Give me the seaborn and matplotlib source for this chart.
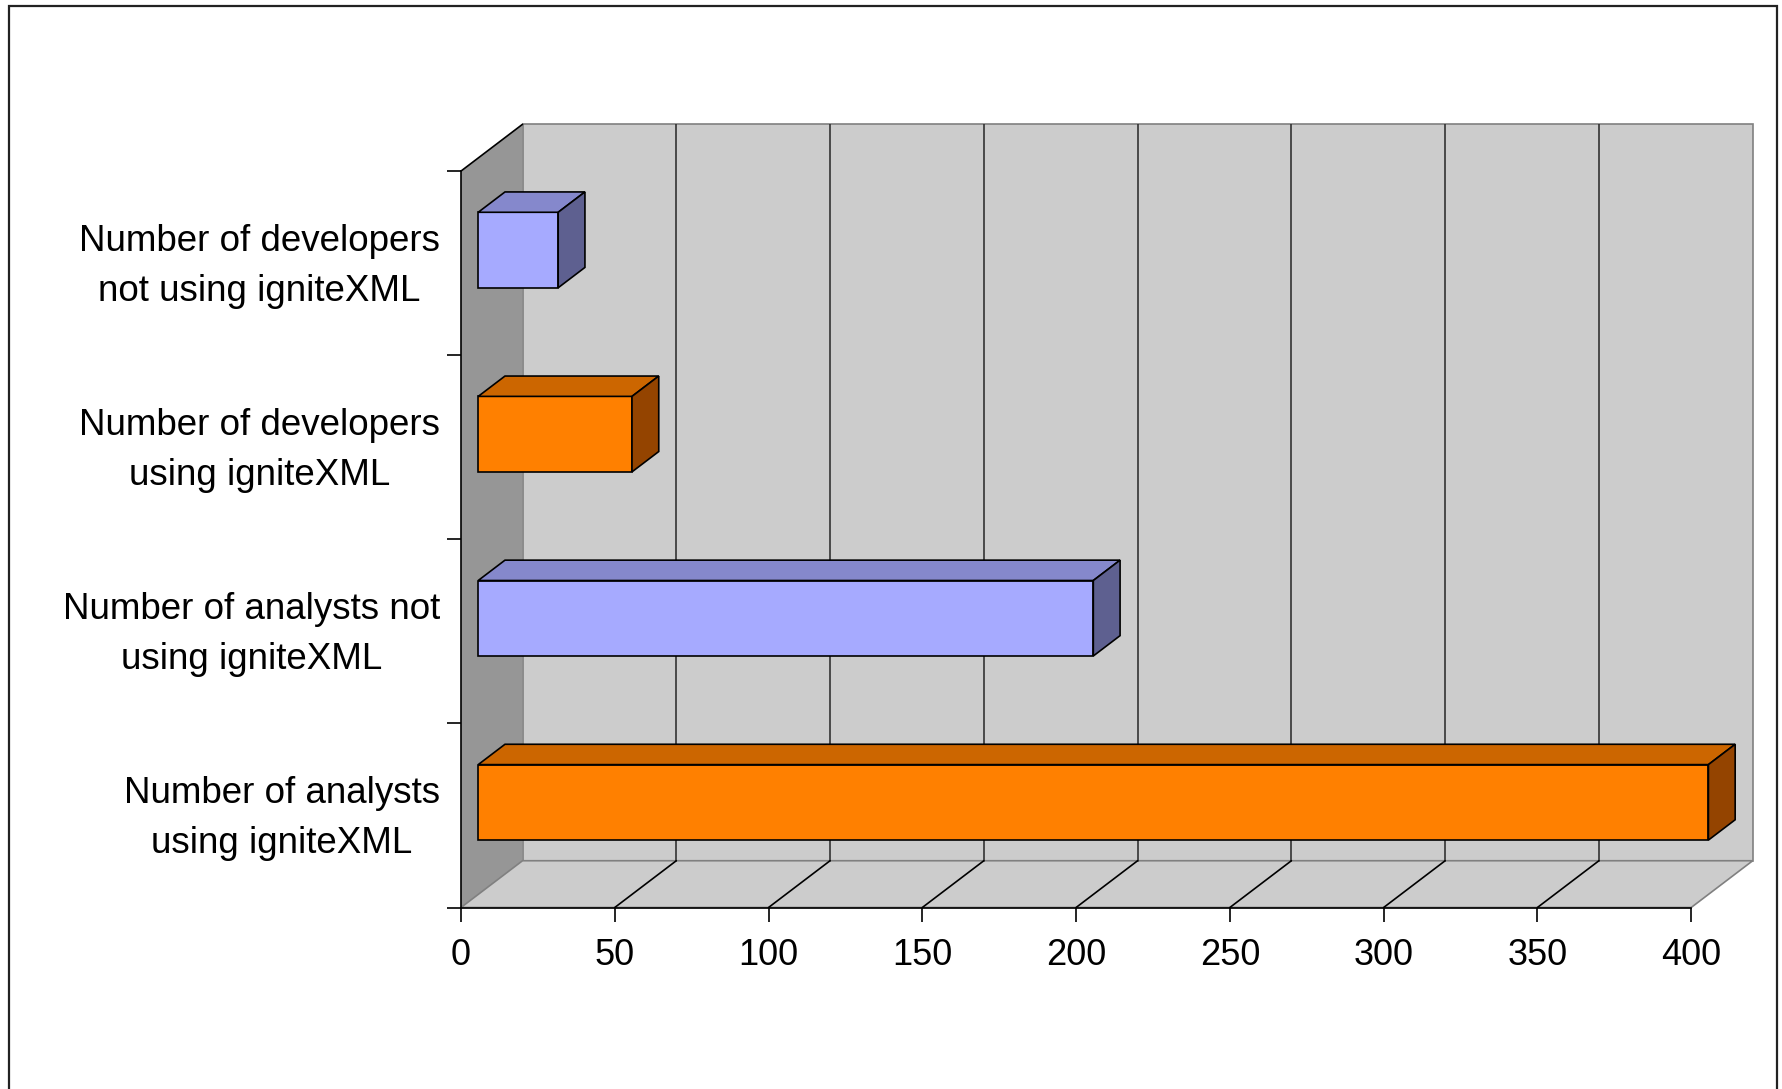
import numpy as np
import pandas as pd
import matplotlib.pyplot as plt
import seaborn as sns
from matplotlib.patches import Polygon, Rectangle

# data
categories = ["Number of developers\nnot using igniteXML",
              "Number of developers\nusing igniteXML",
              "Number of analysts not\nusing igniteXML",
              "Number of analysts\nusing igniteXML"]
values = [26, 50, 200, 400]
front_colors = ['#A6AAFF', '#FF8000', '#A6AAFF', '#FF8000']
top_colors = ['#8588CC', '#CC6600', '#8588CC', '#CC6600']
side_colors = ['#5E6090', '#944400', '#5E6090', '#944400']
x_ticks = [0, 50, 100, 150, 200, 250, 300, 350, 400]

# 3-D look: depth of the box in value / category units
DX = 20.0
DY = 0.254
F0, F1 = 0.28, 0.715   # bars sit between these depth fractions

sns.set_style('white')
plt.rcParams['font.family'] = ['Liberation Sans', 'DejaVu Sans']
plt.rcParams['text.color'] = 'black'
plt.rcParams['xtick.labelcolor'] = 'black'
plt.rcParams['ytick.labelcolor'] = 'black'

df = pd.DataFrame({'label': categories, 'value': values})

fig = plt.figure(figsize=(17.82, 10.89), dpi=100)
ax = fig.add_axes([461 / 1782, 1 - 907.5 / 1089, (1752.7 - 461) / 1782, (907.5 - 124.3) / 1089])

sns.barplot(data=df, x='value', y='label', hue='label',
            palette=dict(zip(categories, front_colors)), saturation=1,
            width=0.41, edgecolor='black', linewidth=1.2, legend=False,
            ax=ax, zorder=5)
bars = list(ax.patches)

x_max = max(x_ticks)
bottom = len(categories) - 0.5
top = -0.5
ax.set_xlim(0, x_max + DX)
ax.set_ylim(bottom, top - DY)

# walls and floor
ax.add_patch(Polygon([(0, bottom), (0, top), (DX, top - DY), (DX, bottom - DY)],
                     fc='#969696', ec='none', zorder=0, clip_on=False))
ax.add_patch(Rectangle((DX, top - DY), x_max, bottom - top,
                       fc='#CCCCCC', ec='#808080', lw=1.2, zorder=0, clip_on=False))
ax.add_patch(Polygon([(0, bottom), (x_max, bottom), (x_max + DX, bottom - DY), (DX, bottom - DY)],
                     fc='#CCCCCC', ec='#808080', lw=1.2, zorder=0.5, clip_on=False))
ax.plot([0, DX], [top, top - DY], color='black', lw=1.2, zorder=1, clip_on=False)

# gridlines on back wall and floor
for v in x_ticks[1:-1]:
    ax.plot([v + DX, v + DX], [bottom - DY, top - DY], color='#333333', lw=1.2, zorder=1)
    ax.plot([v, v + DX], [bottom, bottom - DY], color='black', lw=1.2, zorder=1)

# 3-D faces of the bars
d = F1 - F0
for p in bars:
    i = int(round(p.get_y() + p.get_height() / 2))
    p.set_x(p.get_x() + F0 * DX)
    p.set_y(p.get_y() - F0 * DY)
    x0 = p.get_x()
    x1 = x0 + p.get_width()
    yt = p.get_y()
    yb = yt + p.get_height()
    ax.add_patch(Polygon([(x0, yt), (x1, yt), (x1 + d * DX, yt - d * DY), (x0 + d * DX, yt - d * DY)],
                         fc=top_colors[i], ec='black', lw=1.2, zorder=5))
    ax.add_patch(Polygon([(x1, yt), (x1, yb), (x1 + d * DX, yb - d * DY), (x1 + d * DX, yt - d * DY)],
                         fc=side_colors[i], ec='black', lw=1.2, zorder=5))

# axes
ax.spines['top'].set_visible(False)
ax.spines['right'].set_visible(False)
ax.spines['left'].set_bounds(top, bottom)
ax.spines['bottom'].set_bounds(0, x_max)
for s in ['left', 'bottom']:
    ax.spines[s].set_color('black')
    ax.spines[s].set_linewidth(1.2)
    ax.spines[s].set_zorder(2)

ax.set_xticks(x_ticks)
ax.tick_params(axis='x', direction='out', length=10, width=1.2, color='black',
               labelsize=26, labelcolor='black', pad=12, bottom=True)
# labels sit a touch above the band centre, as in the original
ax.set_yticks(np.arange(len(categories)) - 0.045, categories)
ax.set_yticks(np.arange(top, bottom + 0.01, 1), minor=True)
ax.tick_params(axis='y', which='major', length=0, pad=15, labelsize=26.5,
               labelcolor='black', left=True)
ax.tick_params(axis='y', which='minor', direction='out', length=10, width=1.2, color='black', left=True)
for lbl in ax.get_yticklabels():
    lbl.set_multialignment('center')
    lbl.set_linespacing(1.55)
ax.set_xlabel('')
ax.set_ylabel('')

# chart border
fig.add_artist(Rectangle((8.7 / 1782, -0.02), (1776.7 - 8.7) / 1782, 1.02 - 6 / 1089,
                         transform=fig.transFigure, fill=False, ec='#222222', lw=1.6))

fig.savefig('out.png', dpi=100)
